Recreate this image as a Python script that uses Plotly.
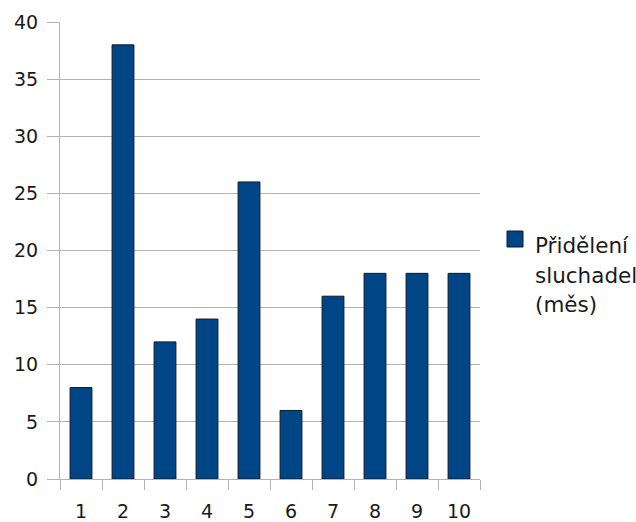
import plotly.graph_objects as go

# Monthly hearing-aid allocations per item
categories = ["1", "2", "3", "4", "5", "6", "7", "8", "9", "10"]
values = [8, 38, 12, 14, 26, 6, 16, 18, 18, 18]
series_name = "Přidělení sluchadel (měs)"
legend_lines = ["Přidělení", "sluchadel", "(měs)"]
y_ticks = [0, 5, 10, 15, 20, 25, 30, 35, 40]

BAR_COLOR = "#004586"
GRID = "#b3b3b3"
FONT = "DejaVu Sans"
TEXT = "#1a1a1a"

fig = go.Figure()
fig.add_trace(go.Bar(
    x=categories,
    y=values,
    name=series_name,
    marker=dict(color=BAR_COLOR, line=dict(color="#0d1a26", width=1)),
    showlegend=False,
))

fig.update_layout(
    width=636,
    height=522,
    margin=dict(l=60, r=156, t=22, b=43),
    paper_bgcolor="white",
    plot_bgcolor="white",
    bargap=0.48,
    font=dict(family=FONT, size=19, color=TEXT),
)

fig.update_xaxes(
    type="category",
    automargin=False,
    showgrid=False,
    showline=True,
    linecolor=GRID,
    linewidth=1,
    ticks="outside",
    tickson="boundaries",
    ticklen=10,
    tickcolor=GRID,
    ticklabelstandoff=15,
    tickfont=dict(family=FONT, size=19, color=TEXT),
)

fig.update_yaxes(
    range=[0, 40],
    automargin=False,
    tickvals=y_ticks,
    showgrid=True,
    gridcolor=GRID,
    gridwidth=1,
    zeroline=False,
    showline=True,
    linecolor=GRID,
    linewidth=1,
    ticks="outside",
    ticklen=12,
    tickcolor=GRID,
    ticklabelstandoff=5,
    tickfont=dict(family=FONT, size=19, color=TEXT),
)

# Legend key: swatch plus three text lines to the right of the plot
fig.add_shape(
    type="rect", xref="paper", yref="paper",
    x0=(507 - 60) / 420, x1=(523 - 60) / 420,
    y0=(479 - 247) / 457, y1=(479 - 231) / 457,
    fillcolor=BAR_COLOR, line=dict(color="#0d1a26", width=1),
)
line_centers = [245.5, 275, 304.5]
for text, py in zip(legend_lines, line_centers):
    fig.add_annotation(
        xref="paper", yref="paper",
        x=(533 - 60) / 420, y=(479 - py) / 457,
        xanchor="left", yanchor="middle",
        text=text, showarrow=False,
        font=dict(family=FONT, size=21.5, color=TEXT),
    )

fig.write_html("out.html")
